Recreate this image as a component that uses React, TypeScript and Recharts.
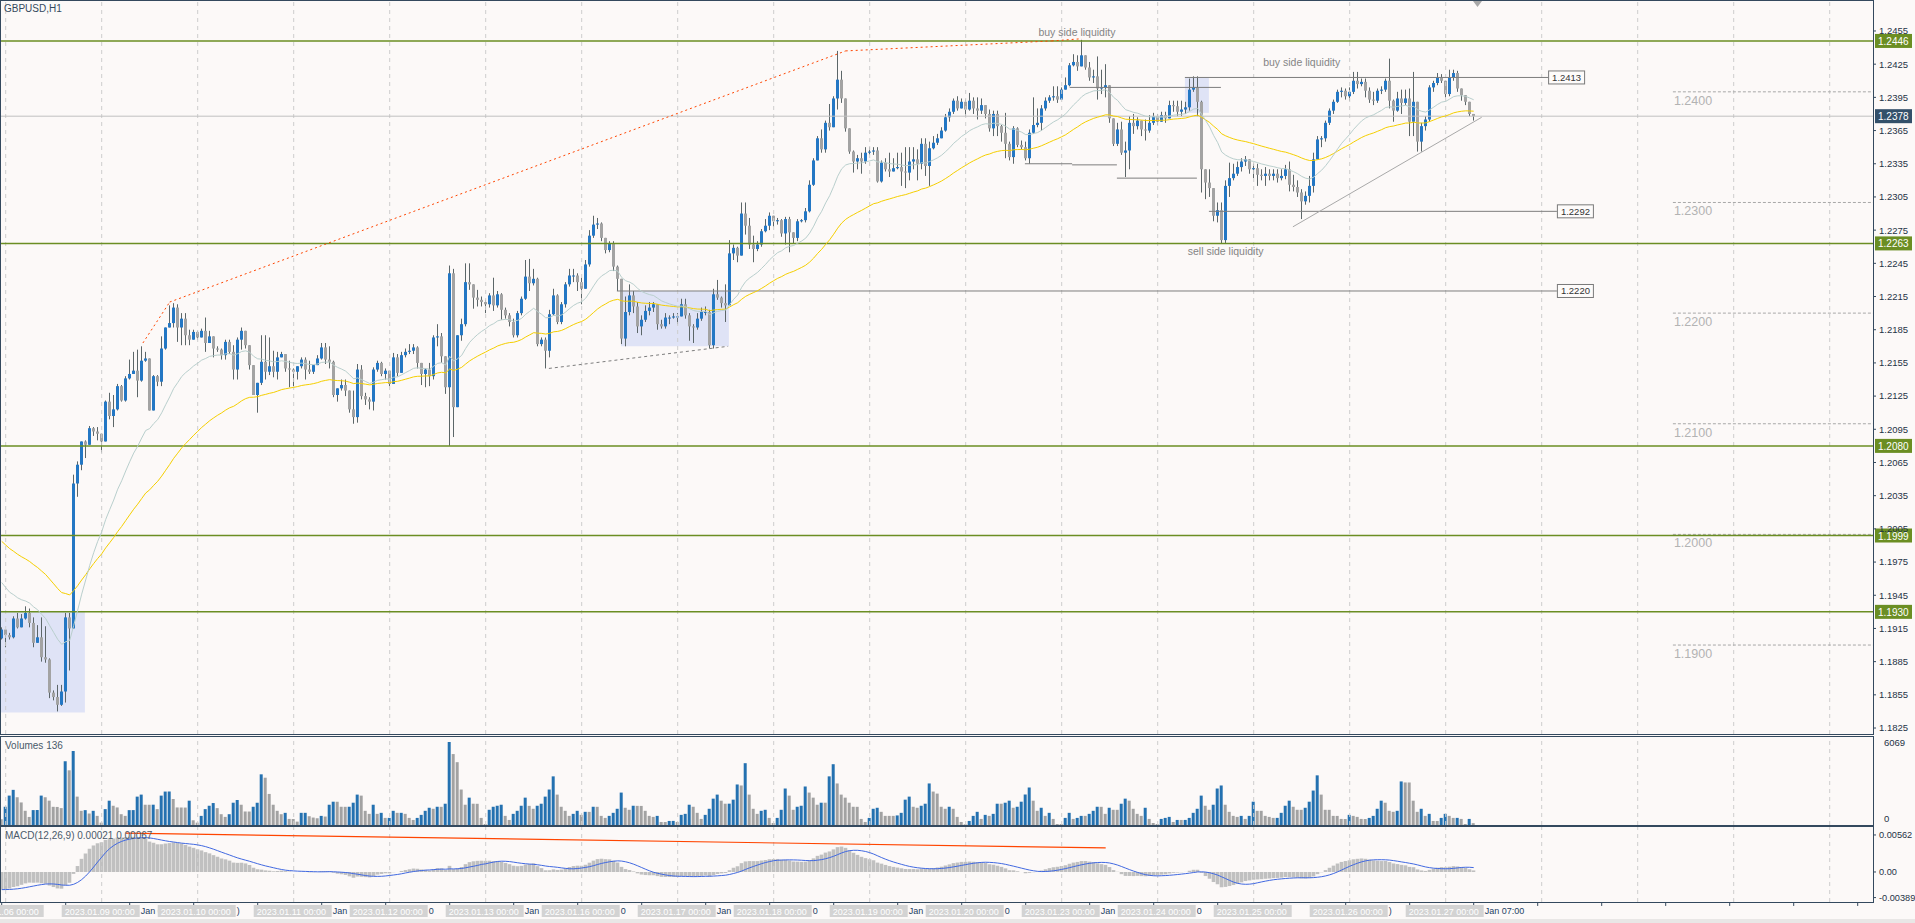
import React from 'react';
import {
  ComposedChart,
  Bar,
  Line,
  XAxis,
  YAxis,
  ReferenceLine,
  ReferenceArea,
  ReferenceDot,
  Cell,
} from 'recharts';

const FONT = '"Liberation Sans", Arial, sans-serif';
const BG = '#fcf9f8';
const FRAME = '#34495e';
const AXIS_TEXT = '#1f3346';
const BULL = '#2377c4';
const BEAR = '#a3a3a3';
const WICK = '#5c6668';
const LEVEL_GREEN = '#6b8e23';

// GBPUSD H1 candles, prices in 1/10000
const firstOpen = 11906;
const closes = [
  11914, 11909, 11907, 11924, 11916, 11924, 11929, 11920, 11902, 11907,
  11889, 11887, 11857, 11853, 11846, 11858, 11925, 11915, 12046, 12063,
  12084, 12081, 12096, 12093, 12091, 12084, 12120, 12107, 12113, 12134,
  12121, 12141, 12145, 12148, 12139, 12157, 12159, 12112, 12143, 12138,
  12168, 12187, 12191, 12205, 12187, 12195, 12180, 12176, 12183, 12178,
  12184, 12173, 12179, 12168, 12167, 12162, 12174, 12165, 12149, 12176,
  12184, 12171, 12153, 12126, 12137, 12156, 12147, 12152, 12147, 12160,
  12163, 12150, 12149, 12147, 12152, 12158, 12149, 12147, 12153, 12159,
  12169, 12158, 12156, 12126, 12132, 12135, 12130, 12113, 12106, 12149,
  12125, 12122, 12120, 12149, 12155, 12145, 12148, 12136, 12160, 12146,
  12162, 12165, 12166, 12169, 12155, 12145, 12149, 12143, 12178, 12179,
  12161, 12133, 12236, 12115, 12180, 12190, 12228, 12226, 12214, 12212,
  12210, 12208, 12216, 12207, 12217, 12203, 12198, 12192, 12180, 12200,
  12213, 12233, 12227, 12231, 12172, 12176, 12166, 12199, 12216, 12192,
  12208, 12226, 12234, 12234, 12228, 12222, 12244, 12270, 12280, 12281,
  12268, 12257, 12263, 12242, 12231, 12177, 12201, 12216, 12206, 12188,
  12194, 12202, 12205, 12208, 12190, 12188, 12196, 12196, 12197, 12197,
  12208, 12198, 12188, 12187, 12195, 12201, 12201, 12171, 12217, 12214,
  12209, 12207, 12254, 12259, 12252, 12290, 12279, 12262, 12258, 12262,
  12274, 12279, 12288, 12283, 12284, 12272, 12285, 12273, 12268, 12283,
  12284, 12292, 12316, 12338, 12358, 12348, 12372, 12368, 12394, 12411,
  12394, 12367, 12346, 12337, 12340, 12337, 12345, 12346, 12347, 12319,
  12336, 12330, 12328, 12331, 12332, 12328, 12327, 12337, 12339, 12335,
  12353, 12333, 12349, 12354, 12358, 12365, 12377, 12382, 12392, 12385,
  12391, 12384, 12392, 12385, 12383, 12388, 12380, 12367, 12380, 12369,
  12363, 12353, 12341, 12367, 12352, 12350, 12340, 12363, 12370, 12372,
  12385, 12392, 12395, 12396, 12393, 12402, 12406, 12424, 12427, 12423,
  12433, 12422, 12413, 12414, 12403, 12404, 12406, 12376, 12353, 12366,
  12345, 12347, 12372, 12369, 12374, 12366, 12365, 12372, 12378, 12373,
  12379, 12376, 12388, 12387, 12382, 12384, 12386, 12402, 12404, 12391,
  12330, 12318, 12313, 12288, 12293, 12266, 12315, 12322, 12326, 12332,
  12337, 12339, 12330, 12331, 12325, 12324, 12326, 12324, 12326, 12322,
  12324, 12330, 12316, 12314, 12309, 12301, 12306, 12315, 12339, 12357,
  12358, 12372, 12383, 12391, 12400, 12401, 12396, 12400, 12410, 12407,
  12409, 12401, 12393, 12392, 12401, 12402, 12410, 12392, 12383, 12394,
  12390, 12394, 12373, 12391, 12355, 12369, 12375, 12404, 12408, 12413,
  12410, 12398, 12413, 12417, 12403, 12397, 12391, 12380, 12378,
];
const highs = [
  11916, 11910, 11911, 11926, 11929, 11928, 11935, 11933, 11925, 11918,
  11925, 11917, 11888, 11859, 11864, 11864, 11929, 11929, 12054, 12066,
  12084, 12085, 12098, 12097, 12097, 12091, 12121, 12128, 12126, 12136,
  12135, 12143, 12158, 12165, 12167, 12170, 12165, 12159, 12144, 12144,
  12179, 12187, 12207, 12209, 12208, 12200, 12200, 12185, 12185, 12184,
  12186, 12196, 12184, 12178, 12170, 12168, 12176, 12176, 12171, 12178,
  12187, 12182, 12171, 12153, 12137, 12180, 12180, 12178, 12166, 12165,
  12165, 12162, 12157, 12150, 12152, 12160, 12160, 12157, 12153, 12162,
  12173, 12173, 12170, 12157, 12132, 12140, 12140, 12130, 12130, 12154,
  12153, 12128, 12124, 12151, 12157, 12156, 12150, 12148, 12164, 12163,
  12165, 12168, 12172, 12172, 12170, 12155, 12150, 12155, 12180, 12190,
  12182, 12161, 12243, 12240, 12180, 12195, 12245, 12245, 12225, 12221,
  12215, 12212, 12218, 12232, 12220, 12218, 12205, 12200, 12195, 12202,
  12215, 12248, 12249, 12240, 12232, 12178, 12178, 12203, 12222, 12217,
  12210, 12228, 12240, 12240, 12236, 12232, 12248, 12275, 12288, 12286,
  12282, 12268, 12265, 12265, 12243, 12231, 12215, 12226, 12220, 12210,
  12198, 12207, 12210, 12210, 12208, 12194, 12200, 12198, 12200, 12200,
  12213, 12213, 12200, 12190, 12200, 12205, 12206, 12203, 12222, 12230,
  12215, 12226, 12266, 12262, 12260, 12300, 12300, 12286, 12270, 12265,
  12276, 12285, 12291, 12288, 12286, 12285, 12287, 12287, 12273, 12285,
  12285, 12295, 12320, 12340, 12360, 12366, 12374, 12389, 12396, 12437,
  12419, 12394, 12367, 12347, 12343, 12345, 12350, 12350, 12350, 12350,
  12338, 12340, 12345, 12340, 12345, 12345, 12350, 12350, 12350, 12348,
  12358, 12358, 12355, 12360, 12362, 12368, 12380, 12385, 12394, 12396,
  12394, 12393, 12399, 12395, 12395, 12394, 12387, 12384, 12383, 12383,
  12370, 12381, 12355, 12369, 12368, 12356, 12355, 12366, 12395, 12385,
  12388, 12395, 12397, 12405, 12405, 12404, 12413, 12426, 12434, 12433,
  12447, 12433, 12427, 12420, 12432, 12420, 12425, 12406, 12376, 12372,
  12373, 12355, 12378, 12380, 12377, 12374, 12375, 12379, 12381, 12380,
  12382, 12382, 12392, 12392, 12392, 12392, 12391, 12412, 12414, 12414,
  12392, 12330, 12330, 12313, 12300, 12300, 12320, 12336, 12335, 12337,
  12340, 12342, 12338, 12335, 12335, 12330, 12332, 12330, 12330, 12330,
  12330, 12334, 12337, 12325, 12320, 12312, 12310, 12324, 12345, 12360,
  12360, 12374, 12385, 12393, 12402, 12404, 12403, 12404, 12418, 12418,
  12412, 12412, 12404, 12400, 12403, 12405, 12412, 12430, 12393, 12400,
  12402, 12402, 12403, 12418, 12391, 12372, 12378, 12406, 12410, 12417,
  12416, 12410, 12420, 12420, 12419, 12403, 12396, 12390, 12380,
];
const lows = [
  11905, 11898, 11905, 11906, 11915, 11916, 11923, 11916, 11898, 11903,
  11885, 11884, 11852, 11850, 11840, 11845, 11848, 11877, 11915, 12034,
  12058, 12069, 12084, 12089, 12085, 12074, 12084, 12104, 12097, 12112,
  12120, 12120, 12140, 12145, 12124, 12138, 12156, 12112, 12112, 12134,
  12134, 12167, 12187, 12187, 12174, 12171, 12171, 12171, 12176, 12176,
  12178, 12165, 12173, 12160, 12165, 12158, 12158, 12163, 12140, 12140,
  12167, 12168, 12149, 12126, 12110, 12135, 12140, 12144, 12142, 12140,
  12160, 12147, 12133, 12134, 12140, 12150, 12140, 12145, 12145, 12153,
  12158, 12154, 12150, 12124, 12120, 12130, 12125, 12110, 12100, 12101,
  12122, 12117, 12113, 12112, 12147, 12143, 12140, 12134, 12136, 12143,
  12146, 12160, 12163, 12163, 12150, 12135, 12133, 12134, 12140, 12170,
  12155, 12127, 12080, 12088, 12115, 12175, 12188, 12221, 12204, 12206,
  12206, 12200, 12205, 12202, 12205, 12194, 12195, 12188, 12178, 12178,
  12198, 12212, 12220, 12225, 12170, 12170, 12150, 12160, 12198, 12190,
  12190, 12205, 12224, 12228, 12220, 12208, 12222, 12242, 12268, 12276,
  12265, 12254, 12255, 12238, 12220, 12172, 12170, 12198, 12200, 12182,
  12180, 12192, 12198, 12201, 12185, 12186, 12186, 12190, 12195, 12190,
  12198, 12195, 12175, 12173, 12185, 12193, 12198, 12168, 12168, 12212,
  12205, 12192, 12207, 12248, 12246, 12252, 12271, 12258, 12246, 12256,
  12260, 12273, 12275, 12278, 12280, 12269, 12262, 12255, 12263, 12265,
  12282, 12282, 12291, 12315, 12338, 12345, 12345, 12365, 12368, 12384,
  12390, 12364, 12344, 12327, 12330, 12326, 12335, 12343, 12343, 12318,
  12318, 12328, 12323, 12328, 12330, 12315, 12313, 12320, 12330, 12320,
  12330, 12324, 12315, 12348, 12352, 12358, 12364, 12373, 12380, 12383,
  12385, 12378, 12383, 12380, 12375, 12380, 12376, 12364, 12360, 12360,
  12355, 12340, 12338, 12335, 12350, 12348, 12338, 12335, 12362, 12368,
  12365, 12383, 12390, 12392, 12390, 12393, 12402, 12405, 12423, 12419,
  12423, 12420, 12410, 12408, 12393, 12398, 12395, 12372, 12351, 12351,
  12343, 12323, 12330, 12362, 12366, 12360, 12356, 12363, 12370, 12370,
  12373, 12372, 12376, 12382, 12378, 12378, 12380, 12383, 12400, 12378,
  12309, 12303, 12305, 12283, 12282, 12263, 12263, 12305, 12320, 12324,
  12328, 12333, 12326, 12322, 12315, 12320, 12315, 12320, 12320, 12318,
  12320, 12321, 12310, 12310, 12305, 12285, 12298, 12300, 12309, 12339,
  12350, 12355, 12370, 12380, 12390, 12395, 12393, 12392, 12398, 12403,
  12405, 12395, 12390, 12388, 12390, 12398, 12400, 12385, 12373, 12382,
  12380, 12388, 12360, 12360, 12346, 12346, 12365, 12373, 12400, 12406,
  12408, 12395, 12396, 12410, 12400, 12392, 12388, 12378, 12374,
];
const volumes = [
  420, 1330, 2150, 2570, 2030, 1650, 1040, 590, 1090, 1095,
  2150, 2030, 1780, 1330, 1320, 1235, 4670, 4000, 5410, 2075,
  1037, 1087, 840, 1037, 667, 173, 1161, 1778, 1408, 1284,
  790, 667, 1087, 1090, 2075, 2223, 1482, 1480, 1485, 1161,
  2149, 2445, 2450, 1902, 1284, 1280, 1275, 1778, 346, 173,
  667, 1161, 1408, 1606, 1235, 790, 593, 790, 1630, 1828,
  1482, 988, 985, 1334, 1630, 3705, 3458, 2272, 1482, 1037,
  790, 889, 445, 440, 247, 889, 890, 642, 543, 494,
  667, 618, 1482, 1704, 1700, 1334, 1330, 1335, 1630, 2223,
  2149, 1037, 815, 1482, 815, 889, 519, 520, 1037, 889,
  890, 815, 519, 370, 519, 741, 1037, 1260, 1186, 1334,
  1330, 1556, 6069, 5187, 4594, 2594, 1482, 2000, 1556, 1550,
  519, 74, 1112, 1334, 1408, 1482, 667, 370, 815, 1037,
  1408, 2000, 1400, 1186, 1408, 1556, 2075, 2594, 3557, 2223,
  1334, 1037, 667, 815, 1037, 741, 963, 960, 1334, 1330,
  667, 519, 667, 889, 1186, 2371, 1260, 1112, 1408, 1400,
  1395, 1037, 667, 593, 667, 222, 220, 296, 300, 222,
  741, 815, 1482, 1334, 889, 445, 741, 1186, 1927, 2223,
  1778, 1556, 1560, 1853, 2964, 2890, 4520, 2223, 1186, 815,
  1037, 1112, 519, 148, 519, 1112, 2668, 2149, 1112, 1334,
  1408, 2816, 2371, 2000, 1482, 1630, 1630, 3557, 4446, 3038,
  2223, 2000, 1630, 1334, 1330, 445, 222, 519, 1186, 1260,
  963, 667, 667, 667, 700, 889, 1853, 2075, 1334, 1260,
  1408, 1556, 3038, 2445, 2297, 1334, 1186, 1334, 1186, 593,
  222, 50, 296, 667, 963, 445, 741, 667, 815, 1556,
  1556, 1630, 1778, 1260, 1334, 1704, 2223, 2742, 1778, 1037,
  1260, 667, 889, 445, 74, 74, 519, 889, 445, 519,
  667, 667, 815, 1037, 1334, 1330, 815, 1260, 1112, 1110,
  1556, 1927, 1778, 1186, 815, 667, 1260, 445, 148, 74,
  445, 519, 593, 222, 370, 370, 372, 519, 889, 1186,
  2149, 1408, 1112, 1482, 2668, 2890, 1482, 963, 667, 593,
  667, 445, 667, 1704, 1037, 1037, 667, 593, 519, 520,
  889, 1408, 1778, 1334, 1112, 1110, 1260, 1704, 2519, 3631,
  2223, 1112, 1110, 667, 665, 445, 440, 741, 667, 593,
  445, 440, 519, 667, 1186, 1778, 1630, 1037, 963, 1037,
  3186, 3112, 3110, 1778, 963, 1186, 667, 815, 296, 295,
  519, 815, 667, 519, 520, 445, 74, 445, 136,
];

// axis ticks
const priceTicks = [
  1.1825, 1.1855, 1.1885, 1.1915, 1.1945, 1.1975, 1.2005, 1.2035, 1.2065, 1.2095, 1.2125,
  1.2155, 1.2185, 1.2215, 1.2245, 1.2275, 1.2305, 1.2335, 1.2365, 1.2395, 1.2425, 1.2455,
];
const volumeTicks = [0, 6069];
const macdTicks = [0.00562, 0, -0.00389];
const dayLabels = [
  '2023.01.06 00:00', '2023.01.09 00:00', '2023.01.10 00:00', '2023.01.11 00:00',
  '2023.01.12 00:00', '2023.01.13 00:00', '2023.01.16 00:00', '2023.01.17 00:00',
  '2023.01.18 00:00', '2023.01.19 00:00', '2023.01.20 00:00', '2023.01.23 00:00',
  '2023.01.24 00:00', '2023.01.25 00:00', '2023.01.26 00:00', '2023.01.27 00:00',
];
const dayLabelTails = ['', 'Jan 0', ')', 'Jan', '0', 'Jan', '0', 'Jan', '0', 'Jan', '0', 'Jan', '0', '', ')', 'Jan 07:00'];
const dayLabelBars = dayLabels.map((_, k) => -9 + 24 * k);
const dayGridBars = Array.from({ length: 20 }, (_, k) => 1 + 24 * k);
const timeTickBars = Array.from({ length: 30 }, (_, k) => 16 * k);

// chart objects drawn on the price pane (bar index, price)
const greenLevels = [1.2446, 1.2263, 1.208, 1.1999, 1.193];
const lastPrice = 1.2378;
const roundLevels = [1.24, 1.23, 1.22, 1.21, 1.2, 1.19];
const roundLevelFromBar = 417.8;
const redTrendBars = [35.3, 42, 211, 262.5, 270];
const redTrendPrices = [1.2173, 1.221, 1.2437, 1.2446, 1.2448];
const segFromBar = [153.8, 295.8, 301.8, 267, 255.8, 267.6, 278.8];
const segToBar = [388.8, 386.6, 388.8, 304.8, 267.6, 278.8, 298.8];
const segPrice = [1.222, 1.2413, 1.2292, 1.2404, 1.2335, 1.2334, 1.2322];
const segTag = ['1.2220', '1.2413', '1.2292', '', '', '', ''];
const boxFromBar = [-0.5, 154.8, 295.8];
const boxToBar = [20.8, 181.8, 301.8];
const boxLow = [1.1839, 1.217, 1.2381];
const boxHigh = [1.193, 1.222, 1.2413];
const notes = ['buy side liquidity', 'buy side liquidity', 'sell side liquidity'];
const noteBars = [268.8, 325, 306];
const notePrices = [1.2454, 1.2427, 1.2256];
const dashedTrend = { bars: [136.8, 181.6], prices: [1.215, 1.217] };
const riseTrend = { bars: [322.8, 370], prices: [1.2278, 1.2377] };
const macdTrend = { bars: [31, 276], values: [0.0059, 0.00365] };

const X_DOMAIN = [-0.425, 467.825];
const PRICE_DOMAIN = [1.18196, 1.24821];
const VOLUME_DOMAIN = [0, 6435];
const MACD_DOMAIN = [-0.00456, 0.00683];

function ema(values: number[], period: number, seed: number) {
  const k = 2 / (period + 1);
  let e = seed;
  return values.map((v) => (e = e + k * (v - e)));
}

const candles = closes.map((c, i) => {
  const o = i === 0 ? firstOpen : closes[i - 1];
  const h = Math.max(highs[i] ?? c, o, c);
  const l = Math.min(lows[i] ?? c, o, c);
  return { i, open: o / 1e4, close: c / 1e4, high: h / 1e4, low: l / 1e4, range: [l / 1e4, h / 1e4] };
});
const closeSeries = candles.map((d) => d.close);
const maFast = ema(closeSeries, 20, 1.1961);
const maSlow = ema(closeSeries, 50, 1.1997);
const ema12 = ema(closeSeries, 12, 1.1925);
const ema26 = ema(closeSeries, 26, 1.1953);
const macdMain = ema12.map((v, i) => v - ema26[i]);
const macdSignal = macdMain.map((_, i) => {
  let s = 0;
  for (let k = 0; k < 9; k++) s += macdMain[Math.max(0, i - k)];
  return s / 9;
});

const data = candles.map((d, i) => ({
  ...d,
  maFast: maFast[i],
  maSlow: maSlow[i],
  vol: volumes[i] ?? 0,
  volUp: i > 0 && (volumes[i] ?? 0) > (volumes[i - 1] ?? 0),
  macd: macdMain[i],
  signal: macdSignal[i],
}));

const Candle = (props: any) => {
  const { x, y, width, height, payload } = props;
  if (!payload || x == null || y == null) return null;
  const top = Math.min(y, y + height);
  const h = Math.abs(height);
  const span = payload.high - payload.low;
  const py = (p: number) => (span > 0 ? top + ((payload.high - p) / span) * h : top);
  const cx = Math.floor(x + width / 2) + 0.5;
  const bTop = py(Math.max(payload.open, payload.close));
  const bBot = py(Math.min(payload.open, payload.close));
  const up = payload.close >= payload.open;
  return (
    <g>
      <line x1={cx} x2={cx} y1={top} y2={top + h} stroke={WICK} strokeWidth={1} />
      <rect x={cx - 1.5} y={bTop} width={3} height={Math.max(1, bBot - bTop)} fill={up ? BULL : BEAR} />
    </g>
  );
};

const AxisBox = (props: any) => {
  const { viewBox, text, fill } = props;
  if (!viewBox) return null;
  const x = viewBox.x + viewBox.width + 2;
  const y = viewBox.y;
  return (
    <g>
      <rect x={x} y={y - 7} width={37} height={14} fill={fill} />
      <text x={x + 3} y={y + 4} fill="#ffffff" fontSize={10} fontFamily={FONT}>
        {text}
      </text>
    </g>
  );
};

const TagBox = (props: any) => {
  const { viewBox, text } = props;
  if (!viewBox || !text) return null;
  const x = viewBox.x + viewBox.width;
  const y = viewBox.y;
  return (
    <g>
      <rect x={x + 0.5} y={y - 6.5} width={36} height={13} fill="#fdfbfa" stroke="#7a7a7a" />
      <text x={x + 4} y={y + 3.5} fill="#333" fontSize={9.5} fontFamily={FONT}>
        {text}
      </text>
    </g>
  );
};

const RoundTag = (props: any) => {
  const { viewBox, text } = props;
  if (!viewBox) return null;
  return (
    <text x={viewBox.x + 1} y={viewBox.y + 13} fill="#b3b3b3" fontSize={12.5} fontFamily={FONT}>
      {text}
    </text>
  );
};

const DayTick = (props: any) => {
  const { x, y, payload } = props;
  const k = dayLabelBars.indexOf(payload.value);
  if (k < 0) return null;
  return (
    <g>
      <text x={x + 79} y={y + 12} fill="#1c3f64" fontSize={9} fontFamily={FONT}>
        {dayLabelTails[k]}
      </text>
      <rect x={x} y={y + 3} width={78} height={12} fill="#d3d3d3" />
      <text x={x + 3} y={y + 12.5} fill="#ffffff" fontSize={9} fontFamily={FONT}>
        {dayLabels[k]}
      </text>
    </g>
  );
};

const VolTick = (props: any) => {
  const { x, y, payload } = props;
  return (
    <text x={x} y={payload.value === 0 ? y - 3 : y + 4} fill={AXIS_TEXT} fontSize={9.5} fontFamily={FONT}>
      {payload.value}
    </text>
  );
};

const gridLines = () =>
  dayGridBars.map((b) => (
    <ReferenceLine key={`g${b}`} x={b} stroke="#cdcdcd" strokeDasharray="4 4" ifOverflow="hidden" />
  ));

const frame = (top: number, height: number) => ({
  position: 'absolute' as const,
  left: 0,
  top,
  width: 1872,
  height,
  border: `1px solid ${FRAME}`,
  pointerEvents: 'none' as const,
});

export default function App() {
  const tickStyle = { fill: AXIS_TEXT, fontSize: 9.5, fontFamily: FONT };
  return (
    <div
      style={{
        position: 'absolute',
        left: 0,
        top: 0,
        width: 1915,
        height: 923,
        background: BG,
        overflow: 'hidden',
        fontFamily: FONT,
      }}
    >
      {/* price pane */}
      <div style={{ position: 'absolute', left: 0, top: 1 }}>
        <ComposedChart width={1915} height={733} data={data} margin={{ top: 0, right: 0, bottom: 0, left: 0 }}>
          <XAxis type="number" dataKey="i" domain={X_DOMAIN} allowDataOverflow hide />
          <YAxis
            orientation="right"
            width={42}
            domain={PRICE_DOMAIN}
            allowDataOverflow
            ticks={priceTicks}
            interval={0}
            tickSize={3}
            tickMargin={3}
            tickLine={{ stroke: FRAME }}
            axisLine={false}
            tick={tickStyle}
            tickFormatter={(v: number) => v.toFixed(4)}
          />
          {boxFromBar.map((x1, k) => (
            <ReferenceArea
              key={`box${k}`}
              x1={x1}
              x2={boxToBar[k]}
              y1={boxLow[k]}
              y2={boxHigh[k]}
              fill="#dfe3f6"
              fillOpacity={1}
              stroke="none"
              ifOverflow="hidden"
            />
          ))}
          {gridLines()}
          {roundLevels.map((p) => (
            <ReferenceLine
              key={`r${p}`}
              segment={[
                { x: roundLevelFromBar, y: p },
                { x: X_DOMAIN[1], y: p },
              ]}
              stroke="#a8a8a8"
              strokeDasharray="3 2"
              label={<RoundTag text={p.toFixed(4)} />}
            />
          ))}
          <ReferenceLine
            y={lastPrice}
            stroke="#c0c0c0"
            label={<AxisBox text={lastPrice.toFixed(4)} fill="#33506a" />}
          />
          {greenLevels.map((p) => (
            <ReferenceLine
              key={`l${p}`}
              y={p}
              stroke={LEVEL_GREEN}
              strokeWidth={1.5}
              label={<AxisBox text={p.toFixed(4)} fill={LEVEL_GREEN} />}
            />
          ))}
          {segFromBar.map((x1, k) => (
            <ReferenceLine
              key={`s${k}`}
              segment={[
                { x: x1, y: segPrice[k] },
                { x: segToBar[k], y: segPrice[k] },
              ]}
              stroke="#7d7d7d"
              label={<TagBox text={segTag[k]} />}
            />
          ))}
          <ReferenceLine
            segment={[
              { x: dashedTrend.bars[0], y: dashedTrend.prices[0] },
              { x: dashedTrend.bars[1], y: dashedTrend.prices[1] },
            ]}
            stroke="#7d7d7d"
            strokeDasharray="3 3"
          />
          <ReferenceLine
            segment={[
              { x: riseTrend.bars[0], y: riseTrend.prices[0] },
              { x: riseTrend.bars[1], y: riseTrend.prices[1] },
            ]}
            stroke="#a9a9a9"
          />
          {redTrendBars.slice(1).map((b, k) => (
            <ReferenceLine
              key={`red${k}`}
              segment={[
                { x: redTrendBars[k], y: redTrendPrices[k] },
                { x: b, y: redTrendPrices[k + 1] },
              ]}
              stroke="#ff4500"
              strokeDasharray="2 3"
            />
          ))}
          <Line dataKey="maSlow" stroke="#f5cf00" strokeWidth={1} dot={false} isAnimationActive={false} />
          <Line dataKey="maFast" stroke="#b9cfcd" strokeWidth={1} dot={false} isAnimationActive={false} />
          <Bar dataKey="range" barSize={3} shape={Candle} isAnimationActive={false} />
          {notes.map((t, k) => (
            <ReferenceDot
              key={`n${k}`}
              x={noteBars[k]}
              y={notePrices[k]}
              r={0}
              stroke="none"
              label={{ value: t, position: 'center', fill: '#858585', fontSize: 10.5, fontFamily: FONT }}
            />
          ))}
        </ComposedChart>
      </div>

      {/* volumes pane */}
      <div style={{ position: 'absolute', left: 0, top: 737 }}>
        <ComposedChart width={1915} height={88} data={data} margin={{ top: 0, right: 0, bottom: 0, left: 0 }}>
          <XAxis type="number" dataKey="i" domain={X_DOMAIN} allowDataOverflow hide />
          <YAxis
            orientation="right"
            width={42}
            domain={VOLUME_DOMAIN}
            allowDataOverflow
            ticks={volumeTicks}
            interval={0}
            tickLine={false}
            tickMargin={5}
            axisLine={false}
            tick={<VolTick />}
          />
          {gridLines()}
          <Bar dataKey="vol" barSize={3} isAnimationActive={false}>
            {data.map((d) => (
              <Cell key={`v${d.i}`} fill={d.volUp ? '#2471b0' : '#a2a2a2'} />
            ))}
          </Bar>
        </ComposedChart>
      </div>

      {/* MACD pane with time axis */}
      <div style={{ position: 'absolute', left: 0, top: 827 }}>
        <ComposedChart width={1915} height={96} data={data} margin={{ top: 0, right: 0, bottom: 0, left: 0 }}>
          <XAxis
            type="number"
            dataKey="i"
            domain={X_DOMAIN}
            allowDataOverflow
            ticks={dayLabelBars}
            interval={0}
            tickSize={0}
            tickMargin={0}
            tickLine={false}
            axisLine={false}
            height={21}
            tick={<DayTick />}
          />
          <YAxis
            orientation="right"
            width={42}
            domain={MACD_DOMAIN}
            allowDataOverflow
            ticks={macdTicks}
            interval={0}
            tickSize={3}
            tickMargin={3}
            tickLine={{ stroke: FRAME }}
            axisLine={false}
            tick={{ ...tickStyle, fontSize: 9.2 }}
            tickFormatter={(v: number) => (v === 0 ? '0.00' : v.toFixed(5))}
          />
          {gridLines()}
          {timeTickBars.map((b) => (
            <ReferenceLine
              key={`t${b}`}
              segment={[
                { x: b, y: MACD_DOMAIN[0] },
                { x: b, y: MACD_DOMAIN[0] - 0.0006 },
              ]}
              stroke={FRAME}
              ifOverflow="visible"
            />
          ))}
          <Bar dataKey="macd" fill="#c0c0c0" barSize={4} isAnimationActive={false} />
          <ReferenceLine
            segment={[
              { x: macdTrend.bars[0], y: macdTrend.values[0] },
              { x: macdTrend.bars[1], y: macdTrend.values[1] },
            ]}
            stroke="#ff4500"
            strokeWidth={1.2}
          />
          <Line dataKey="signal" stroke="#4169e1" strokeWidth={1} dot={false} isAnimationActive={false} />
        </ComposedChart>
      </div>

      <div style={frame(0, 733)} />
      <div style={frame(736, 88)} />
      <div style={frame(826, 75)} />

      <div style={{ position: 'absolute', left: 4, top: 3, fontSize: 10, color: '#34495e' }}>GBPUSD,H1</div>
      <div style={{ position: 'absolute', left: 5, top: 740, fontSize: 10, color: '#4a5a6a' }}>Volumes 136</div>
      <div style={{ position: 'absolute', left: 5, top: 830, fontSize: 10, color: '#4a5a6a' }}>
        MACD(12,26,9) 0.00021 0.00067
      </div>
      <svg style={{ position: 'absolute', left: 1473, top: 1 }} width={10} height={8}>
        <polygon points="0,0 9,0 4.5,6" fill="#a8a8a8" />
      </svg>
      <div style={{ position: 'absolute', left: 0, top: 919, width: 1915, height: 4, background: '#e9e7e6' }} />
    </div>
  );
}
